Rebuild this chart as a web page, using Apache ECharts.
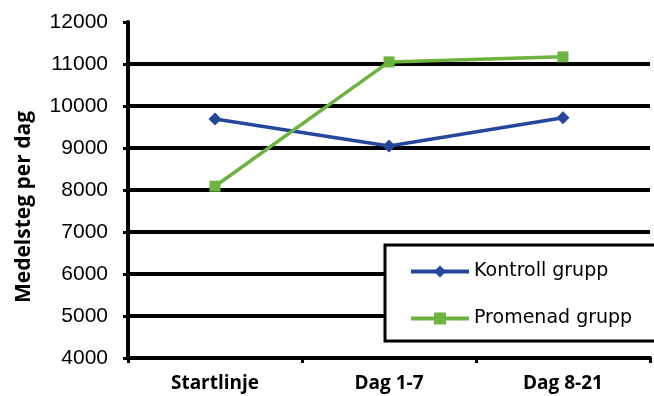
<!DOCTYPE html>
<html>
<head>
<meta charset="utf-8">
<script src="https://cdn.jsdelivr.net/npm/echarts@6/dist/echarts.min.js"></script>
<style>
  html, body { margin: 0; padding: 0; background: #fff; }
  #main { width: 654px; height: 396px; }
</style>
</head>
<body>
<div id="main"></div>
<script>
// data
var categories = ['Startlinje', 'Dag 1-7', 'Dag 8-21'];
var kontroll = [9690, 9050, 9720];
var promenad = [8090, 11050, 11170];
var yTicks = [4000, 5000, 6000, 7000, 8000, 9000, 10000, 11000, 12000];

var chart = echarts.init(document.getElementById('main'));

chart.setOption({
    animation: false,
    backgroundColor: '#fff',
    grid: {
        left: 128,
        right: 4,
        top: 22,
        bottom: 38
    },
    legend: {
        orient: 'vertical',
        left: 385,
        top: 245,
        width: 268,
        backgroundColor: '#fff',
        borderColor: '#000',
        borderWidth: 3,
        borderRadius: 0,
        padding: [17, 60, 13, 24],
        itemGap: 28,
        itemWidth: 58,
        itemHeight: 15,
        lineStyle: { width: 4 },
        textStyle: {
            fontFamily: 'DejaVu Sans',
            fontSize: 19,
            color: '#000'
        },
        data: ['Kontroll grupp', 'Promenad grupp']
    },
    xAxis: {
        type: 'category',
        data: categories,
        boundaryGap: true,
        axisLine: { lineStyle: { color: '#000', width: 4 } },
        axisTick: { show: true, length: 5, lineStyle: { color: '#000', width: 3 } },
        axisLabel: {
            margin: 16,
            fontFamily: 'Open Sans',
            fontWeight: 'bold',
            fontSize: 19,
            color: '#000'
        },
        splitLine: { show: false }
    },
    yAxis: {
        type: 'value',
        min: yTicks[0],
        max: yTicks[yTicks.length - 1],
        interval: 1000,
        name: 'Medelsteg per dag',
        nameLocation: 'middle',
        nameGap: 93,
        nameTextStyle: {
            fontFamily: 'Open Sans',
            fontWeight: 'bold',
            fontSize: 21,
            color: '#000',
            padding: [0, 34, 0, 0]
        },
        axisLine: { show: true, lineStyle: { color: '#000', width: 4 } },
        axisTick: { show: true, length: 5, lineStyle: { color: '#000', width: 3 } },
        axisLabel: {
            margin: 20,
            fontFamily: 'Liberation Sans',
            fontSize: 21,
            color: '#000',
            formatter: function (v) { return String(v); }
        },
        splitLine: {
            show: true,
            showMaxLine: false,
            lineStyle: { color: '#000', width: 4 }
        }
    },
    series: [
        {
            name: 'Kontroll grupp',
            type: 'line',
            data: kontroll,
            symbol: 'diamond',
            symbolSize: 13,
            itemStyle: { color: '#24479b' },
            lineStyle: { color: '#24479b', width: 3.5 },
            z: 3
        },
        {
            name: 'Promenad grupp',
            type: 'line',
            data: promenad,
            symbol: 'rect',
            symbolSize: 11,
            itemStyle: { color: '#6cb43f' },
            lineStyle: { color: '#6cb43f', width: 3.5 },
            z: 4
        }
    ]
});
</script>
</body>
</html>
